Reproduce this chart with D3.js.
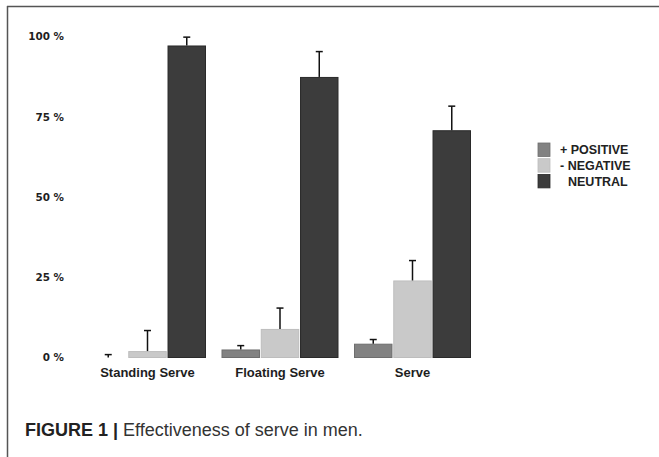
<!DOCTYPE html>
<html><head><meta charset="utf-8">
<script src="https://cdn.jsdelivr.net/npm/d3@7/dist/d3.min.js"></script>
<style>body{margin:0;background:#fff}svg{display:block}</style>
</head><body>
<svg id="c" width="659" height="457"></svg>
<script>
const categories = ["Standing Serve", "Floating Serve", "Serve"];
const seriesNames = ["+ POSITIVE", "- NEGATIVE", "NEUTRAL"];
const positive = [0, 2.5, 4.3];
const negative = [2.0, 8.9, 24.0];
const neutral = [97.2, 87.4, 70.8];
const positiveErr = [0.9, 1.2, 1.3];
const negativeErr = [6.4, 6.5, 6.2];
const neutralErr = [2.6, 7.9, 7.5];
const yTicks = [0, 25, 50, 75, 100];
const tickLabels = ["0 %", "25 %", "50 %", "75 %", "100 %"];
const caption = ["FIGURE 1 |", " Effectiveness of serve in men."];

const seriesVals = [positive, negative, neutral];
const seriesErr = [positiveErr, negativeErr, neutralErr];
const colors = ["#828282", "#c9c9c9", "#3c3c3c"];
const strokes = ["#6e6e6e", "#bdbdbd", "#2a2a2a"];

const svg = d3.select("#c");
// frame
svg.append("line").attr("x1",7).attr("x2",659).attr("y1",6.5).attr("y2",6.5).attr("stroke","#555").attr("stroke-width",1.5);
svg.append("line").attr("x1",7.5).attr("x2",7.5).attr("y1",6).attr("y2",457).attr("stroke","#555").attr("stroke-width",1.5);

const y = d3.scaleLinear().domain([0,100]).range([357.5, 36.5]);
const x0 = d3.scaleBand().domain(categories).range([89, 471]).paddingInner(0.117).paddingOuter(0);
const x1 = d3.scaleBand().domain(seriesNames).range([0, x0.bandwidth()]).paddingInner(0.02);

// y axis labels
const yAxis = d3.axisLeft(y).tickValues(yTicks).tickSize(0).tickPadding(0)
  .tickFormat((d,i)=>tickLabels[i]);
const ga = svg.append("g").attr("transform","translate(64,0)").call(yAxis);
ga.select(".domain").remove();
ga.selectAll("text").attr("font-family","DejaVu Sans").attr("font-weight","bold")
  .attr("font-size",10.4).attr("fill","#1e1e1e");

// x axis labels
const xAxis = d3.axisBottom(x0).tickSize(0).tickPadding(0);
const gx = svg.append("g").attr("transform","translate(0,368)").call(xAxis);
gx.select(".domain").remove();
gx.selectAll("text").attr("font-family","Liberation Sans, Arial, sans-serif").attr("font-weight","bold")
  .attr("font-size",13).attr("fill","#1e1e1e");

// bars
const groups = svg.append("g").selectAll("g").data(categories).join("g")
  .attr("transform", d=>`translate(${x0(d)},0)`);
groups.each(function(cat, ci){
  const g = d3.select(this);
  seriesNames.forEach((s, si)=>{
    const v = seriesVals[si][ci];
    const e = seriesErr[si][ci];
    const bx = x1(s), bw = x1.bandwidth();
    if (v > 0) {
      g.append("rect").attr("x", bx+0.5).attr("y", y(v)+0.5).attr("width", bw-1)
        .attr("height", y(0)-y(v)-0.5).attr("fill", colors[si]).attr("stroke", strokes[si]).attr("stroke-width",1);
    }
    const cx = bx + bw/2;
    g.append("line").attr("x1",cx).attr("x2",cx).attr("y1",y(v)).attr("y2",y(v+e))
      .attr("stroke","#111").attr("stroke-width",1.5);
    g.append("line").attr("x1",cx-3.5).attr("x2",cx+3.5).attr("y1",y(v+e)).attr("y2",y(v+e))
      .attr("stroke","#111").attr("stroke-width",1.5);
  });
});

// legend
const leg = svg.append("g").attr("transform","translate(538,143)");
seriesNames.forEach((s, i)=>{
  leg.append("rect").attr("x",0).attr("y",i*15.7).attr("width",12).attr("height",13.5)
    .attr("fill",colors[i]).attr("stroke",strokes[i]).attr("stroke-width",0.8);
  leg.append("text").attr("x", i===2 ? 30 : 22).attr("y", i*15.7+7).attr("dy","0.35em")
    .attr("font-family","Liberation Sans, Arial, sans-serif").attr("font-weight","bold").attr("font-size",12.5)
    .attr("fill","#222").text(s);
});

// caption
const cap = svg.append("text").attr("x",25).attr("y",435.5)
  .attr("font-family","Liberation Sans, Arial, sans-serif").attr("font-size",18).attr("fill","#333");
cap.append("tspan").attr("font-weight","bold").attr("fill","#222").text(caption[0]);
cap.append("tspan").text(caption[1]);
</script>
</body></html>
